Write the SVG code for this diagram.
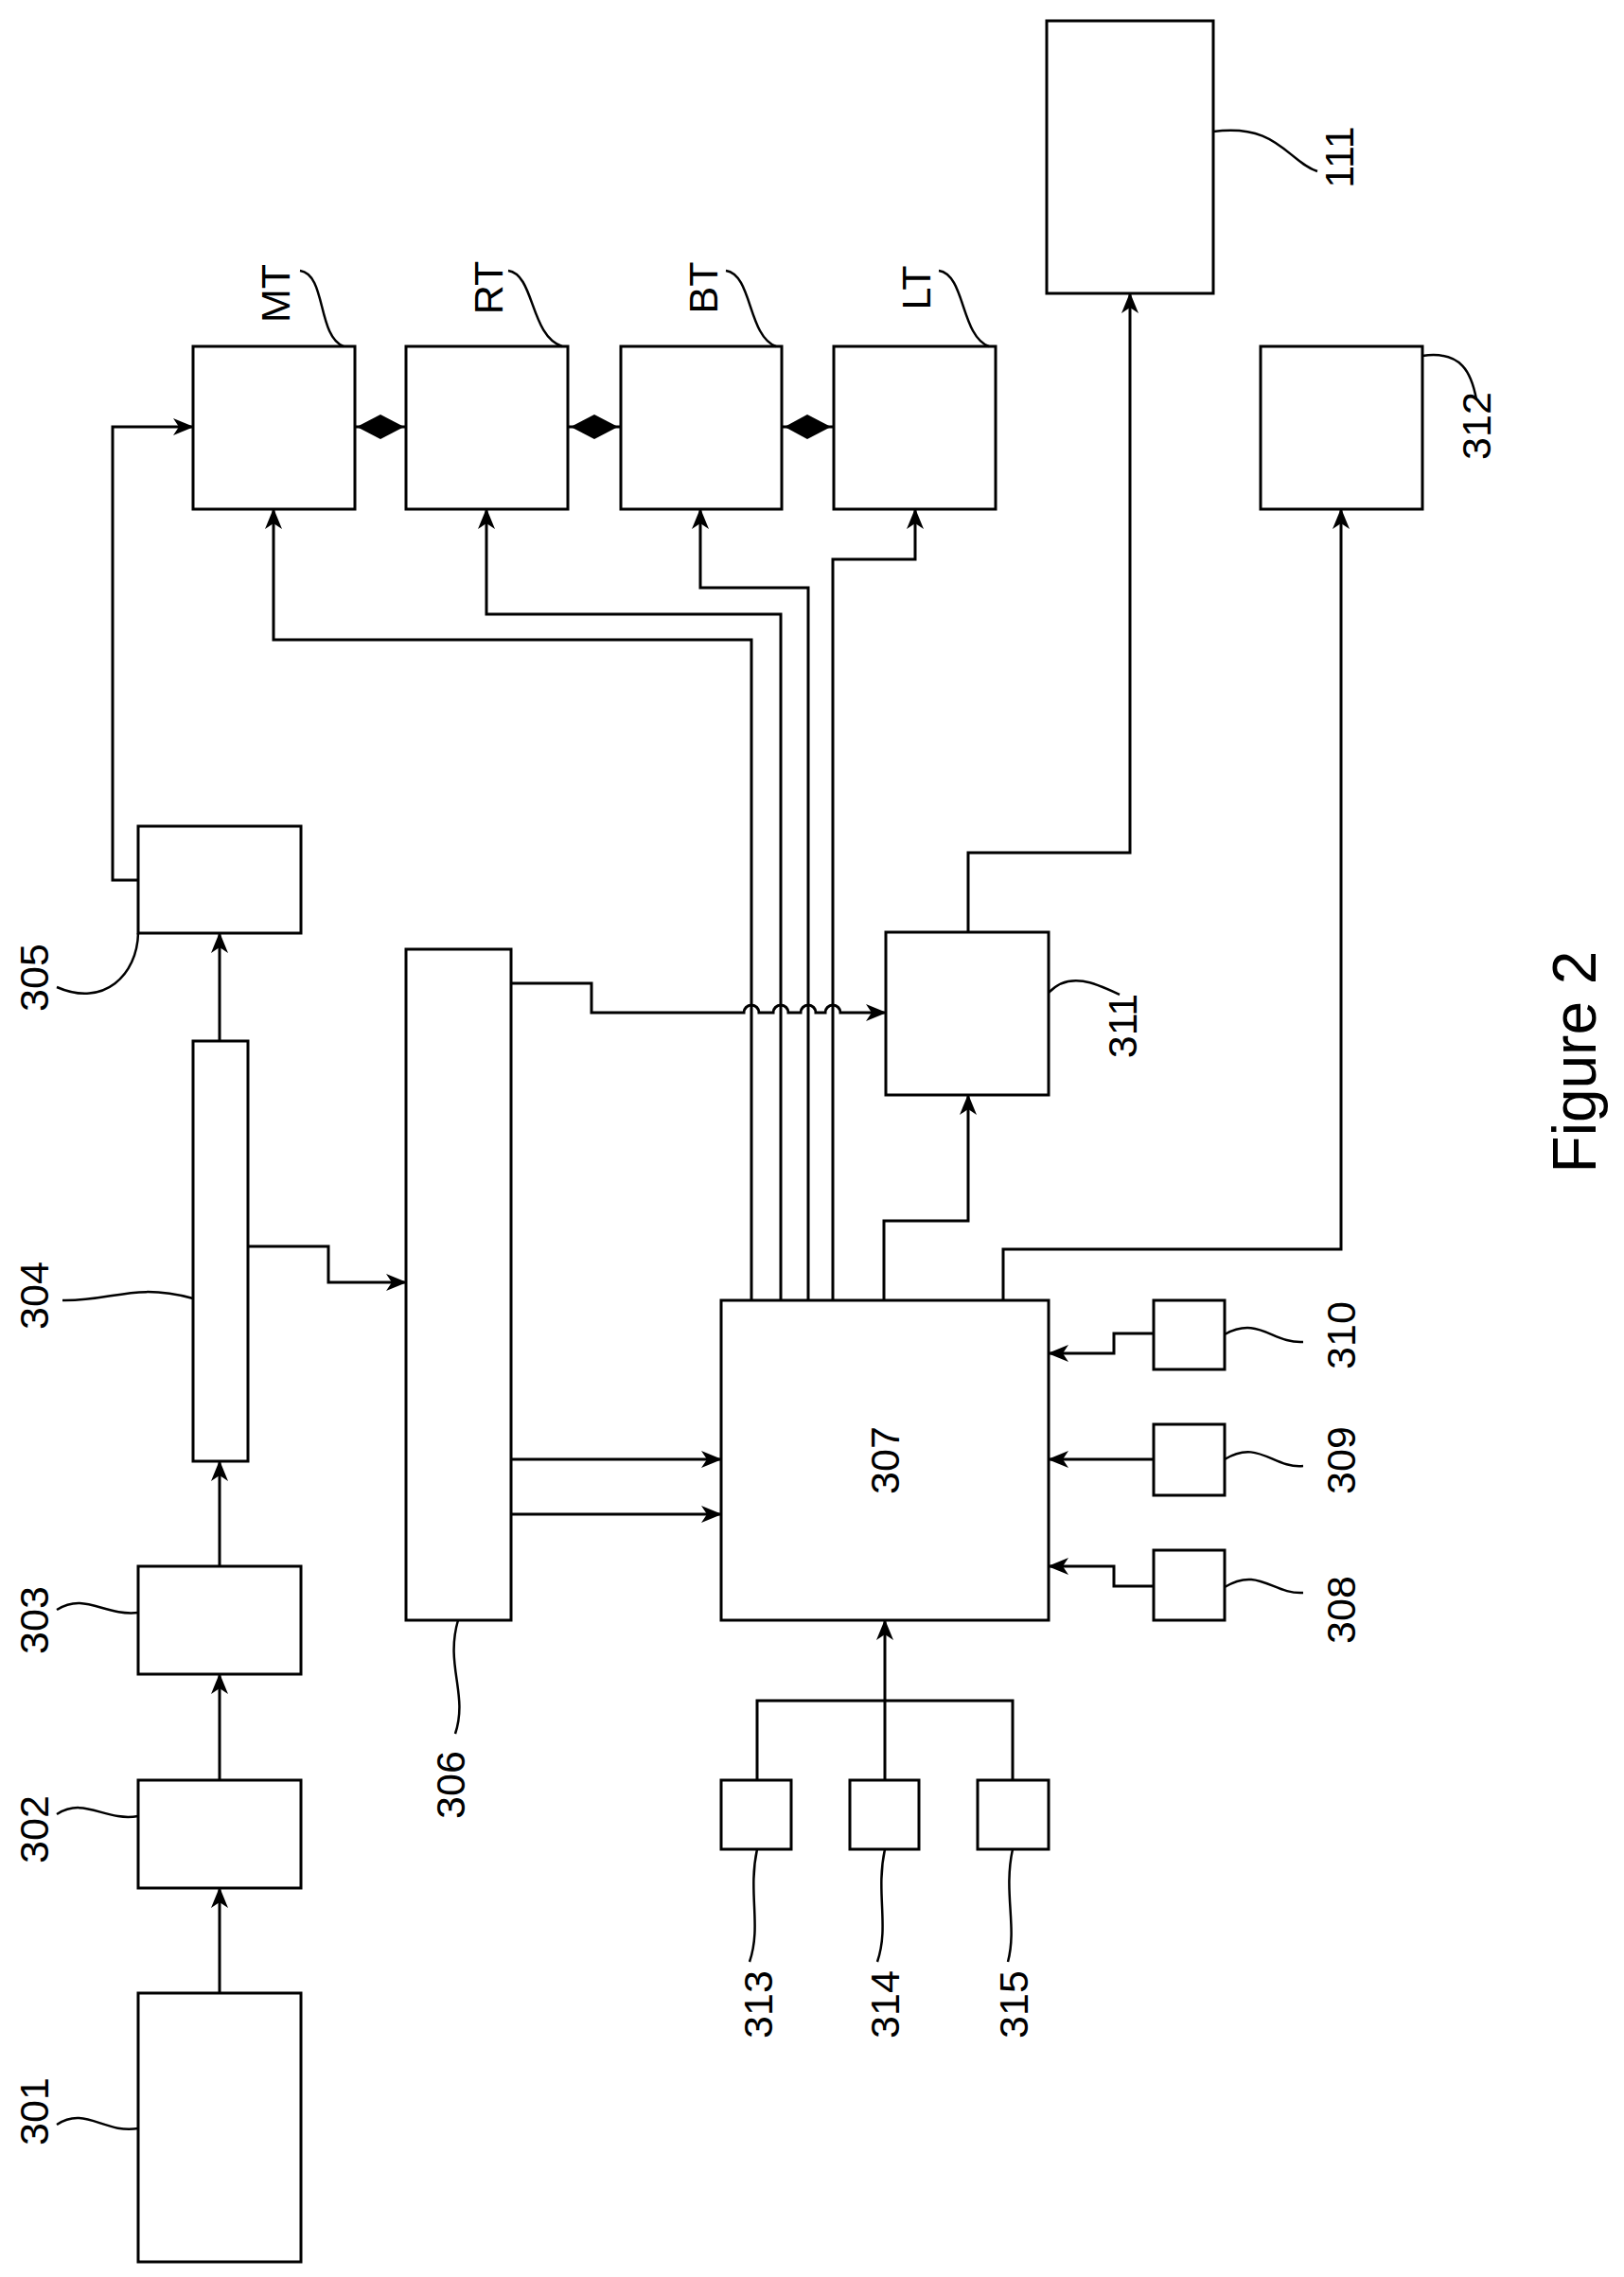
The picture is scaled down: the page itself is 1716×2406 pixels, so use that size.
<svg xmlns="http://www.w3.org/2000/svg" width="1716" height="2406" viewBox="0 0 1716 2406">
<style>
.b{fill:#fff;stroke:#000;stroke-width:3}
.c{fill:none;stroke:#000;stroke-width:3}
.s{fill:none;stroke:#000;stroke-width:2.5}
.t{font-family:"Liberation Sans",Arial,sans-serif;font-size:43px;fill:#000;text-anchor:middle;dominant-baseline:central}
</style>
<defs>
<marker id="a" viewBox="0 0 22 18" refX="21" refY="9" markerWidth="22" markerHeight="18" orient="auto" markerUnits="userSpaceOnUse">
<path d="M0,0 L22,9 L0,18 L6,9 Z" fill="#000"/>
</marker>
</defs>
<g id="connectors">
<path class="c" marker-end="url(#a)" d="M232,2106 V1995"/>
<path class="c" marker-end="url(#a)" d="M232,1881 V1769"/>
<path class="c" marker-end="url(#a)" d="M232,1655 V1544"/>
<path class="c" marker-end="url(#a)" d="M232,1100 V986"/>
<path class="c" marker-end="url(#a)" d="M146,930 H119 V451 H204"/>
<path class="c" marker-end="url(#a)" d="M262,1317 H347 V1355 H429"/>
<path class="c" marker-end="url(#a)" d="M540,1542 H762"/>
<path class="c" marker-end="url(#a)" d="M540,1600 H762"/>
<path class="c" marker-end="url(#a)" d="M540,1039 H625 V1070 H786 A8,8 0 0 1 802,1070 H817 A8,8 0 0 1 833,1070 H846 A8,8 0 0 1 862,1070 H872 A8,8 0 0 1 888,1070 H936"/>
<path class="c" marker-end="url(#a)" d="M794,1374 V676 H289 V538"/>
<path class="c" marker-end="url(#a)" d="M825,1374 V649 H514 V538"/>
<path class="c" marker-end="url(#a)" d="M854,1374 V621 H740 V538"/>
<path class="c" marker-end="url(#a)" d="M880,1374 V591 H967 V538"/>
<path class="c" marker-end="url(#a)" d="M934,1374 V1290 H1023 V1157"/>
<path class="c" marker-end="url(#a)" d="M1023,985 V901 H1194 V310"/>
<path class="c" marker-end="url(#a)" d="M1060,1374 V1320 H1417 V538"/>
<path class="c" marker-end="url(#a)" d="M1219,1409 H1177 V1430 H1108"/>
<path class="c" marker-end="url(#a)" d="M1219,1542 H1108"/>
<path class="c" marker-end="url(#a)" d="M1219,1676 H1177 V1655 H1108"/>
<path class="c" d="M800,1881 V1797 H1070 V1881"/>
<path class="c" marker-end="url(#a)" d="M935,1881 V1712"/>
<path class="c" d="M375,451 H429"/>
<path d="M377,451 L402,438 L427,451 L402,464 Z"/>
<path class="c" d="M600,451 H656"/>
<path d="M603,451 L628,438 L653,451 L628,464 Z"/>
<path class="c" d="M826,451 H881"/>
<path d="M829,451 L853,438 L878,451 L853,464 Z"/>
</g>
<g id="n301"><rect class="b" x="146" y="2106" width="172" height="284"/><path class="s" d="M60,2245 C90,2225 110,2255 146,2249"/><text class="t" transform="translate(36,2231) rotate(-90)">301</text></g>
<g id="n302"><rect class="b" x="146" y="1881" width="172" height="114"/><path class="s" d="M60,1917 C90,1898 110,1925 146,1919"/><text class="t" transform="translate(36,1933) rotate(-90)">302</text></g>
<g id="n303"><rect class="b" x="146" y="1655" width="172" height="114"/><path class="s" d="M60,1701 C90,1682 110,1708 146,1704"/><text class="t" transform="translate(36,1712) rotate(-90)">303</text></g>
<g id="n304"><rect class="b" x="204" y="1100" width="58" height="444"/><path class="s" d="M66,1374 C120,1375 140,1355 204,1372"/><text class="t" transform="translate(36,1369) rotate(-90)">304</text></g>
<g id="n305"><rect class="b" x="146" y="873" width="172" height="113"/><path class="s" d="M60,1043 C110,1065 145,1030 146,986"/><text class="t" transform="translate(36,1033) rotate(-90)">305</text></g>
<g id="n306"><rect class="b" x="429" y="1003" width="111" height="709"/><path class="s" d="M484,1712 C470,1760 495,1790 481,1832"/><text class="t" transform="translate(476,1886) rotate(-90)">306</text></g>
<g id="n307"><rect class="b" x="762" y="1374" width="346" height="338"/><text class="t" transform="translate(935,1543) rotate(-90)">307</text></g>
<g id="n308"><rect class="b" x="1219" y="1638" width="75" height="74"/><path class="s" d="M1294,1677 C1330,1655 1345,1685 1377,1683"/><text class="t" transform="translate(1417,1701) rotate(-90)">308</text></g>
<g id="n309"><rect class="b" x="1219" y="1505" width="75" height="75"/><path class="s" d="M1294,1542 C1330,1520 1345,1552 1377,1549"/><text class="t" transform="translate(1417,1543) rotate(-90)">309</text></g>
<g id="n310"><rect class="b" x="1219" y="1374" width="75" height="73"/><path class="s" d="M1294,1410 C1330,1390 1345,1420 1377,1418"/><text class="t" transform="translate(1417,1411) rotate(-90)">310</text></g>
<g id="n311"><rect class="b" x="936" y="985" width="172" height="172"/><path class="s" d="M1108,1049 C1130,1025 1160,1040 1183,1051"/><text class="t" transform="translate(1186,1084) rotate(-90)">311</text></g>
<g id="n312"><rect class="b" x="1332" y="366" width="171" height="172"/><path class="s" d="M1503,376 C1545,370 1555,395 1560,422"/><text class="t" transform="translate(1560,450) rotate(-90)">312</text></g>
<g id="n313"><rect class="b" x="762" y="1881" width="74" height="73"/><path class="s" d="M800,1954 C790,2000 805,2035 792,2073"/><text class="t" transform="translate(801,2118) rotate(-90)">313</text></g>
<g id="n314"><rect class="b" x="898" y="1881" width="73" height="73"/><path class="s" d="M935,1954 C925,2000 940,2035 927,2073"/><text class="t" transform="translate(935,2118) rotate(-90)">314</text></g>
<g id="n315"><rect class="b" x="1033" y="1881" width="75" height="73"/><path class="s" d="M1070,1954 C1060,2000 1075,2035 1065,2073"/><text class="t" transform="translate(1071,2118) rotate(-90)">315</text></g>
<g id="nMT"><rect class="b" x="204" y="366" width="171" height="172"/><path class="s" d="M317,286 C345,290 335,355 363,366"/><text class="t" transform="translate(291,310) rotate(-90)">MT</text></g>
<g id="nRT"><rect class="b" x="429" y="366" width="171" height="172"/><path class="s" d="M537,286 C565,290 560,355 594,366"/><text class="t" transform="translate(516,304) rotate(-90)">RT</text></g>
<g id="nBT"><rect class="b" x="656" y="366" width="170" height="172"/><path class="s" d="M767,286 C795,290 790,355 820,366"/><text class="t" transform="translate(743,304) rotate(-90)">BT</text></g>
<g id="nLT"><rect class="b" x="881" y="366" width="171" height="172"/><path class="s" d="M992,286 C1020,290 1015,355 1045,366"/><text class="t" transform="translate(968,304) rotate(-90)">LT</text></g>
<g id="n111"><rect class="b" x="1106" y="22" width="176" height="288"/><path class="s" d="M1282,139 C1350,130 1360,170 1392,181"/><text class="t" transform="translate(1415,166) rotate(-90)">111</text></g>
<text class="t" style="font-size:64px" transform="translate(1664,1122) rotate(-90)">Figure 2</text>
</svg>
